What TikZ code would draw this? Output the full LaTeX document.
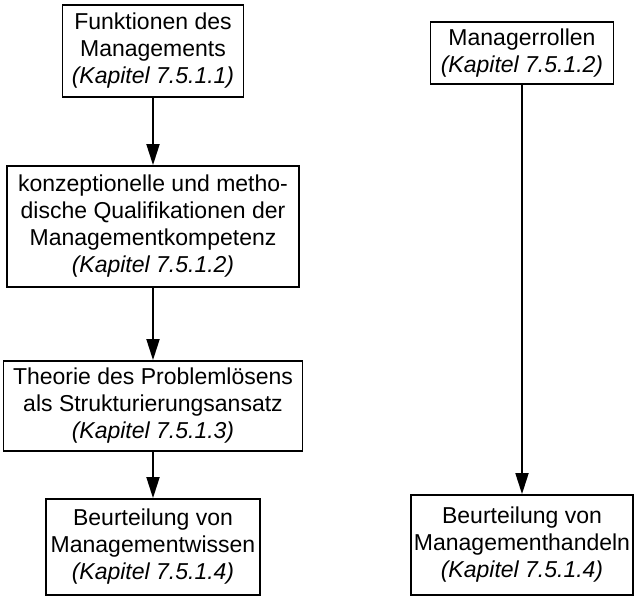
\documentclass[tikz,border=0pt]{standalone}
\usepackage{fontspec}
\setmainfont{Liberation Sans}
\usetikzlibrary{arrows.meta}
\tikzset{
  box/.style={draw, line width=1.8pt, align=center, inner xsep=2pt, inner ysep=3pt,
    font=\fontsize{23}{27}\selectfont},
  arr/.style={line width=1.8pt, -{Triangle[length=21pt,width=13pt]}},
}
\begin{document}
\begin{tikzpicture}[x=1pt,y=-1pt]
\useasboundingbox (0,0) rectangle (634,599);
\node[box, minimum width=181pt, minimum height=92pt] (b1) at (153,51)
  {Funktionen des\\Managements\\\textit{(Kapitel 7.5.1.1)}};
\node[box, minimum width=292pt, minimum height=121pt] (b2) at (153,226.5)
  {konzeptionelle und metho-\\dische Qualifikationen der\\Managementkompetenz\\\textit{(Kapitel 7.5.1.2)}};
\node[box, minimum width=299pt, minimum height=90pt] (b3) at (153,406)
  {Theorie des Problemlösens\\als Strukturierungsansatz\\\textit{(Kapitel 7.5.1.3)}};
\node[box, minimum width=214pt, minimum height=96pt] (b4) at (153,547)
  {Beurteilung von\\Managementwissen\\\textit{(Kapitel 7.5.1.4)}};
\node[box, minimum width=183pt, minimum height=62pt] (b5) at (522,53)
  {Managerrollen\\\textit{(Kapitel 7.5.1.2)}};
\node[box, minimum width=222pt, minimum height=100pt] (b6) at (522,545)
  {Beurteilung von\\Managementhandeln\\\textit{(Kapitel 7.5.1.4)}};
\draw[arr] (b1) -- (b2);
\draw[arr] (b2) -- (b3);
\draw[arr] (b3) -- (b4);
\draw[arr] (b5) -- (b6);
\end{tikzpicture}
\end{document}
